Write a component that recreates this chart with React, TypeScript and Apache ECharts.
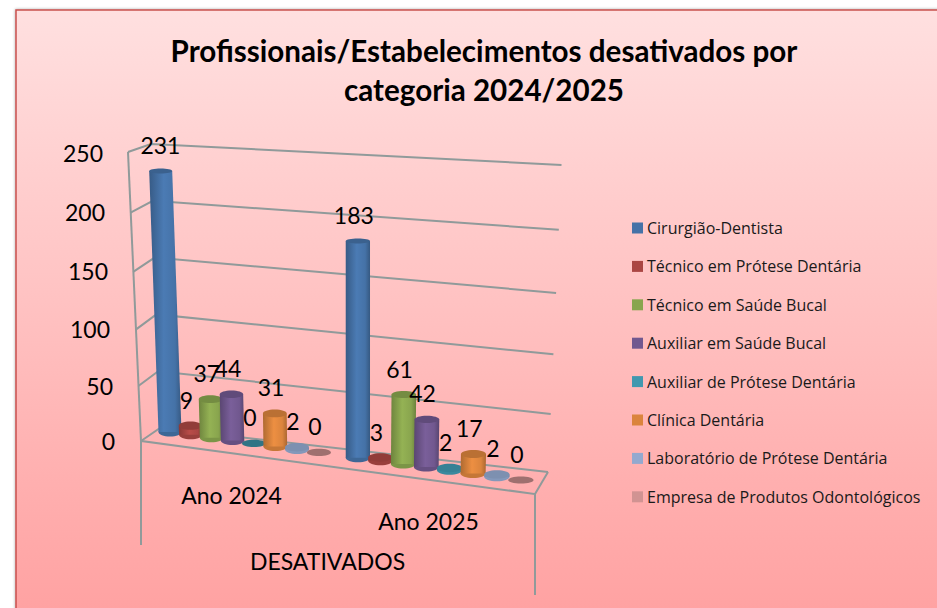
import React, { useEffect, useRef } from "react";
import * as echarts from "echarts";

const TITLE = "Profissionais/Estabelecimentos desativados por\ncategoria 2024/2025";
const categories = ["Ano 2024", "Ano 2025"];
const axisName = "DESATIVADOS";
const yTicks = [0, 50, 100, 150, 200, 250];
const seriesNames = [
  "Cirurgião-Dentista",
  "Técnico em Prótese Dentária",
  "Técnico em Saúde Bucal",
  "Auxiliar em Saúde Bucal",
  "Auxiliar de Prótese Dentária",
  "Clínica Dentária",
  "Laboratório de Prótese Dentária",
  "Empresa de Produtos Odontológicos",
];
const cirurgiao = [231, 183];
const tecnicoProtese = [9, 3];
const tecnicoSaude = [37, 61];
const auxiliarSaude = [44, 42];
const auxiliarProtese = [0, 2];
const clinica = [31, 17];
const laboratorio = [2, 2];
const empresa = [0, 0];
const seriesValues = [cirurgiao, tecnicoProtese, tecnicoSaude, auxiliarSaude, auxiliarProtese, clinica, laboratorio, empresa];
const colors = ["#4572A7", "#AA4643", "#89A54E", "#71588F", "#4198AF", "#DB843D", "#93A9CF", "#D19392"];

const LABEL_FONT = "Lato";
const GRID_COLOR = "#909a9a";

function shade(hex: string, f: number) {
  const n = parseInt(hex.slice(1), 16);
  const c = [(n >> 16) & 255, (n >> 8) & 255, n & 255].map((v) => Math.min(255, Math.round(v * f)));
  return `rgb(${c[0]},${c[1]},${c[2]})`;
}

// Perspective of the 3D box: where a slot of the floor lands on the page.
function floorPoint(slot: number) {
  const x = (170 + 19.7 * slot) / (1 - 0.00495 * slot);
  return { x, y: 432 + (x - 170) * 0.1368 };
}
const frontLeft = (v: number) => [141 - 0.052 * v, 441 - (1.086 * v + 0.00028 * v * v)];
const backLeft = (v: number) => [160 - 0.036 * v, 428 - 1.136 * v];
const backRight = (v: number) => [548 + 0.054 * v, 472 - (1.143 * v + 0.00034 * v * v)];

function renderFrame(_params: any, api: any) {
  const v = api.value(1);
  const line = { stroke: GRID_COLOR, lineWidth: 2, fill: "none" };
  const children: any[] = [
    { type: "polyline", shape: { points: [frontLeft(v), backLeft(v), backRight(v)] }, style: line },
  ];
  if (v === 0) {
    children.push(
      { type: "polyline", shape: { points: [[141, 545], [141, 441], [535, 494], [535, 595]] }, style: line },
      { type: "polyline", shape: { points: [[535, 494], [548, 472]] }, style: line },
      { type: "polyline", shape: { points: [frontLeft(0), frontLeft(250)] }, style: line },
    );
  }
  return { type: "group", children };
}

function barRenderer(seriesIndex: number) {
  return (_params: any, api: any) => {
    const cat = api.value(0);
    const v = api.value(1);
    const slot = cat * 8.75 + seriesIndex;
    const p = floorPoint(slot);
    const raw = api.coord([cat, 0])[1] - api.coord([cat, v])[1];
    const scale = 0.87 + ((p.x - 170) / 188) * 0.07 + 0.00048 * v;
    const h = raw * scale;
    const lean = ((p.x - 358) / 190) * 0.036 * h;
    const rx = 11.5 + ((p.x - 170) / 351) * 1.2;
    const topX = p.x + lean;
    const topY = p.y - h;
    const color = colors[seriesIndex];
    const ryBottom = 4.5;
    const ryTop = Math.max(2.5, 4.2 - h / 100);
    const body = new echarts.graphic.LinearGradient(0, 0, 1, 0, [
      { offset: 0, color: shade(color, 0.8) },
      { offset: 0.45, color: shade(color, 1.08) },
      { offset: 0.8, color: shade(color, 1.0) },
      { offset: 1, color: shade(color, 0.78) },
    ]);
    const children: any[] = [];
    if (h > 0) {
      children.push(
        { type: "ellipse", shape: { cx: p.x, cy: p.y, rx, ry: ryBottom }, style: { fill: shade(color, 0.9) } },
        {
          type: "polygon",
          shape: { points: [[topX - rx, topY], [topX + rx, topY], [p.x + rx, p.y], [p.x - rx, p.y]] },
          style: { fill: body },
        },
      );
    }
    children.push({
      type: "ellipse",
      shape: { cx: topX, cy: topY, rx, ry: h > 0 ? ryTop : 3.6 },
      style: { fill: shade(color, h > 0 ? 0.85 : 0.76) },
    });
    children.push({
      type: "text",
      style: {
        text: String(v),
        x: topX - 4 - lean * 0.4,
        y: topY - 26,
        align: "center",
        verticalAlign: "middle",
        textAlign: "center",
        textVerticalAlign: "middle",
        fontFamily: LABEL_FONT,
        fontSize: 23,
        fill: "#000",
      },
    });
    return { type: "group", children };
  };
}

export default function App() {
  const ref = useRef<HTMLDivElement>(null);
  useEffect(() => {
    const chart = echarts.init(ref.current!, null, { renderer: "svg" });
    const shiftDown: Record<number, number> = { 0: 0, 50: 5, 100: 6, 150: 6, 200: 3, 250: 0 };
    const yRich: any = {};
    yTicks.forEach((t) => {
      yRich["t" + t] = {
        fontFamily: LABEL_FONT,
        fontSize: 23,
        color: "#000",
        padding: [shiftDown[t], Math.round((12 * t) / 250), 0, 0],
      };
    });
    chart.setOption({
      animation: false,
      backgroundColor: "#ffffff",
      title: {
        text: TITLE,
        left: 479,
        top: 26,
        textAlign: "center",
        textStyle: { fontFamily: "Lato", fontWeight: "bold", fontSize: 29.6, lineHeight: 39, color: "#000" },
      },
      graphic: [
        {
          type: "rect",
          z: -10,
          shape: { x: 16, y: 10, width: 940, height: 620 },
          style: {
            fill: new echarts.graphic.LinearGradient(0, 0, 0, 1, [
              { offset: 0, color: "#ffe0e0" },
              { offset: 1, color: "#ffa0a0" },
            ]),
            stroke: "#c9504d",
            lineWidth: 1.5,
            shadowBlur: 3,
            shadowColor: "rgba(0,0,0,0.35)",
          },
        },
      ],
      legend: {
        data: seriesNames,
        orient: "vertical",
        left: 627,
        top: 215,
        icon: "rect",
        itemWidth: 11,
        itemHeight: 11,
        itemGap: 22.4,
        selectedMode: false,
        textStyle: { fontFamily: "Open Sans", fontSize: 16, color: "#1a1a1a", padding: [0, 0, 0, -1] },
      },
      grid: { left: 133, width: 394, top: 153, height: 288 },
      xAxis: {
        type: "category",
        data: categories,
        axisLine: { show: false },
        axisTick: { show: false },
        axisLabel: {
          interval: 0,
          margin: 42,
          formatter: (s: string) => (s === categories[1] ? `{b|${s}}` : `{a|${s}}`),
          rich: {
            a: { fontFamily: LABEL_FONT, fontSize: 23, color: "#000" },
            b: { fontFamily: LABEL_FONT, fontSize: 23, color: "#000", padding: [26, 0, 0, 0] },
          },
        },
        name: axisName,
        nameLocation: "middle",
        nameGap: 108,
        nameTextStyle: { fontFamily: LABEL_FONT, fontSize: 23, color: "#000", padding: [0, 5, 0, 0] },
      },
      yAxis: {
        type: "value",
        min: 0,
        max: 250,
        interval: 50,
        axisLine: { show: false },
        axisTick: { show: false },
        splitLine: { show: false },
        axisLabel: {
          margin: 18,
          formatter: (v: number) => `{t${v}|${v}}`,
          rich: yRich,
        },
      },
      series: [
        {
          type: "custom",
          silent: true,
          renderItem: renderFrame,
          data: yTicks.map((t) => [0, t]),
          encode: { x: 0, y: 1 },
          z: 1,
        },
        ...seriesNames.map((name, i) => ({
          type: "custom",
          name,
          itemStyle: { color: colors[i] },
          renderItem: barRenderer(i),
          data: seriesValues[i].map((v, c) => [c, v]),
          encode: { x: 0, y: 1 },
          z: 2 + i,
        })),
      ],
    });
    return () => chart.dispose();
  }, []);
  return <div ref={ref} style={{ position: "fixed", left: 0, top: 0, width: 937, height: 608 }} />;
}
